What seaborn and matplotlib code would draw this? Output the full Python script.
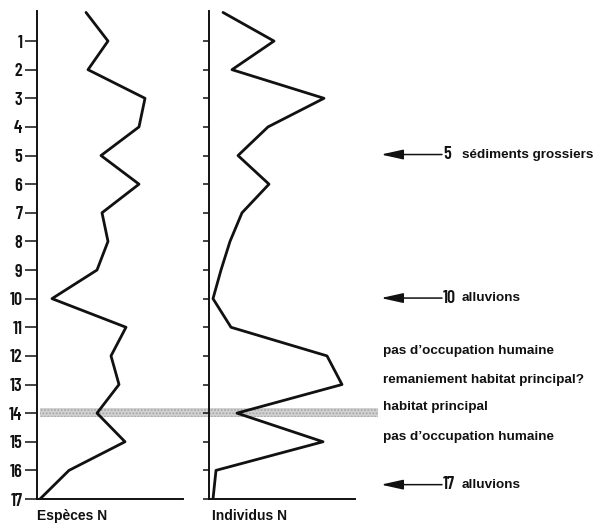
"""
Profil stratigraphique : espèces et individus par niveau
"""

import numpy as np
import matplotlib.pyplot as plt
import seaborn as sns

# ─── Data ──────────────────────────────────────────────────────────────────────
niveaux = list(range(0, 18))
especes = [49, 71, 51, 108, 102, 64, 102, 65, 71, 60, 15, 89, 74, 82, 60, 88, 32, 3]
individus = [14, 65, 23, 115, 59, 29, 60, 33, 21, 12, 4, 22, 118, 133, 28, 114, 7, 4]
tick_niveaux = list(range(1, 18))

fleche_niveaux = [5, 10, 16.5]
fleche_nums = ["5", "10", "17"]
fleche_textes = ["sédiments grossiers", "alluvions", "alluvions"]

note_niveaux = [11.85, 12.85, 13.8, 14.85]
note_textes = ["pas d\u2019occupation humaine", "remaniement habitat principal?",
               "habitat principal", "pas d\u2019occupation humaine"]

bande = (13.83, 14.15)

# ─── Style ─────────────────────────────────────────────────────────────────────
sns.set_style("white")
plt.rcParams['font.family'] = ['Liberation Sans', 'DejaVu Sans']
NARROW = dict(family=['Barlow Condensed', 'DejaVu Sans'], fontstretch='condensed',
              fontweight='semibold')
INK = '#111111'

W, H = 596, 523
fig = plt.figure(figsize=(W / 100, H / 100), dpi=100)
fig.patch.set_facecolor('white')

y_top, y_bot = 11, 499          # pixel rows of level 0 and level 17
bottom = (H - y_bot) / H
height = (y_bot - y_top) / H

# background axes in pixel x units, for band, arrows and notes
ax_bg = fig.add_axes([0, bottom, 1, height])
ax_bg.set_xlim(0, W)
ax_bg.set_ylim(17, 0)
ax_bg.axis('off')
ax_bg.axhspan(bande[0], bande[1], xmin=40 / W, xmax=378 / W,
              facecolor='#d2d2d2', edgecolor='#a8a8a8', hatch='.....', linewidth=0)


def panel(x0, vals, labels):
    ax = fig.add_axes([x0 / W, bottom, 146 / W, height])
    ax.patch.set_visible(False)
    sns.lineplot(x=vals, y=niveaux, sort=False, orient='y', ax=ax,
                 color=INK, linewidth=2.0, estimator=None)
    ax.set_xlim(0, 146)
    ax.set_ylim(17, -0.05)
    ax.set_xticks([])
    ax.set_yticks(tick_niveaux)
    for s in ['top', 'right']:
        ax.spines[s].set_visible(False)
    for s in ['left', 'bottom']:
        ax.spines[s].set_color(INK)
        ax.spines[s].set_linewidth(1.4)
    if labels:
        ax.set_yticklabels([str(t) for t in tick_niveaux], fontsize=13,
                           color=INK, **NARROW)
        ax.tick_params(axis='y', direction='out', length=8.5, width=1.1,
                       color=INK, pad=2, left=True)
    else:
        ax.set_yticklabels([])
        ax.tick_params(axis='y', direction='out', length=4, width=1.1,
                       color=INK, left=True)
    ax.set_xlabel('')
    ax.set_ylabel('')
    return ax


ax1 = panel(37, especes, True)
ax2 = panel(209, individus, False)

# bottom labels
ax_bg.text(37, 17.58, "Espèces N", fontsize=10, fontweight='bold', color=INK,
           ha='left', va='center', clip_on=False)
ax_bg.text(212, 17.58, "Individus N", fontsize=10, fontweight='bold', color=INK,
           ha='left', va='center', clip_on=False)

# arrows with layer numbers
for lvl, num, txt in zip(fleche_niveaux, fleche_nums, fleche_textes):
    ax_bg.annotate('', xy=(381, lvl), xytext=(442, lvl),
                   arrowprops=dict(arrowstyle='-|>,head_length=1.35,head_width=0.3',
                                   color=INK, lw=1.1, shrinkA=0, shrinkB=0))
    ax_bg.text(443, lvl, num, fontsize=13, color=INK, ha='left', va='center',
               **NARROW)
    ax_bg.text(462, lvl, txt, fontsize=9.7, fontweight='bold', color=INK,
               ha='left', va='center')

for lvl, txt in zip(note_niveaux, note_textes):
    ax_bg.text(383, lvl, txt, fontsize=9.7, fontweight='bold', color=INK,
               ha='left', va='center')

fig.savefig('out.png', dpi=100, facecolor='white')
